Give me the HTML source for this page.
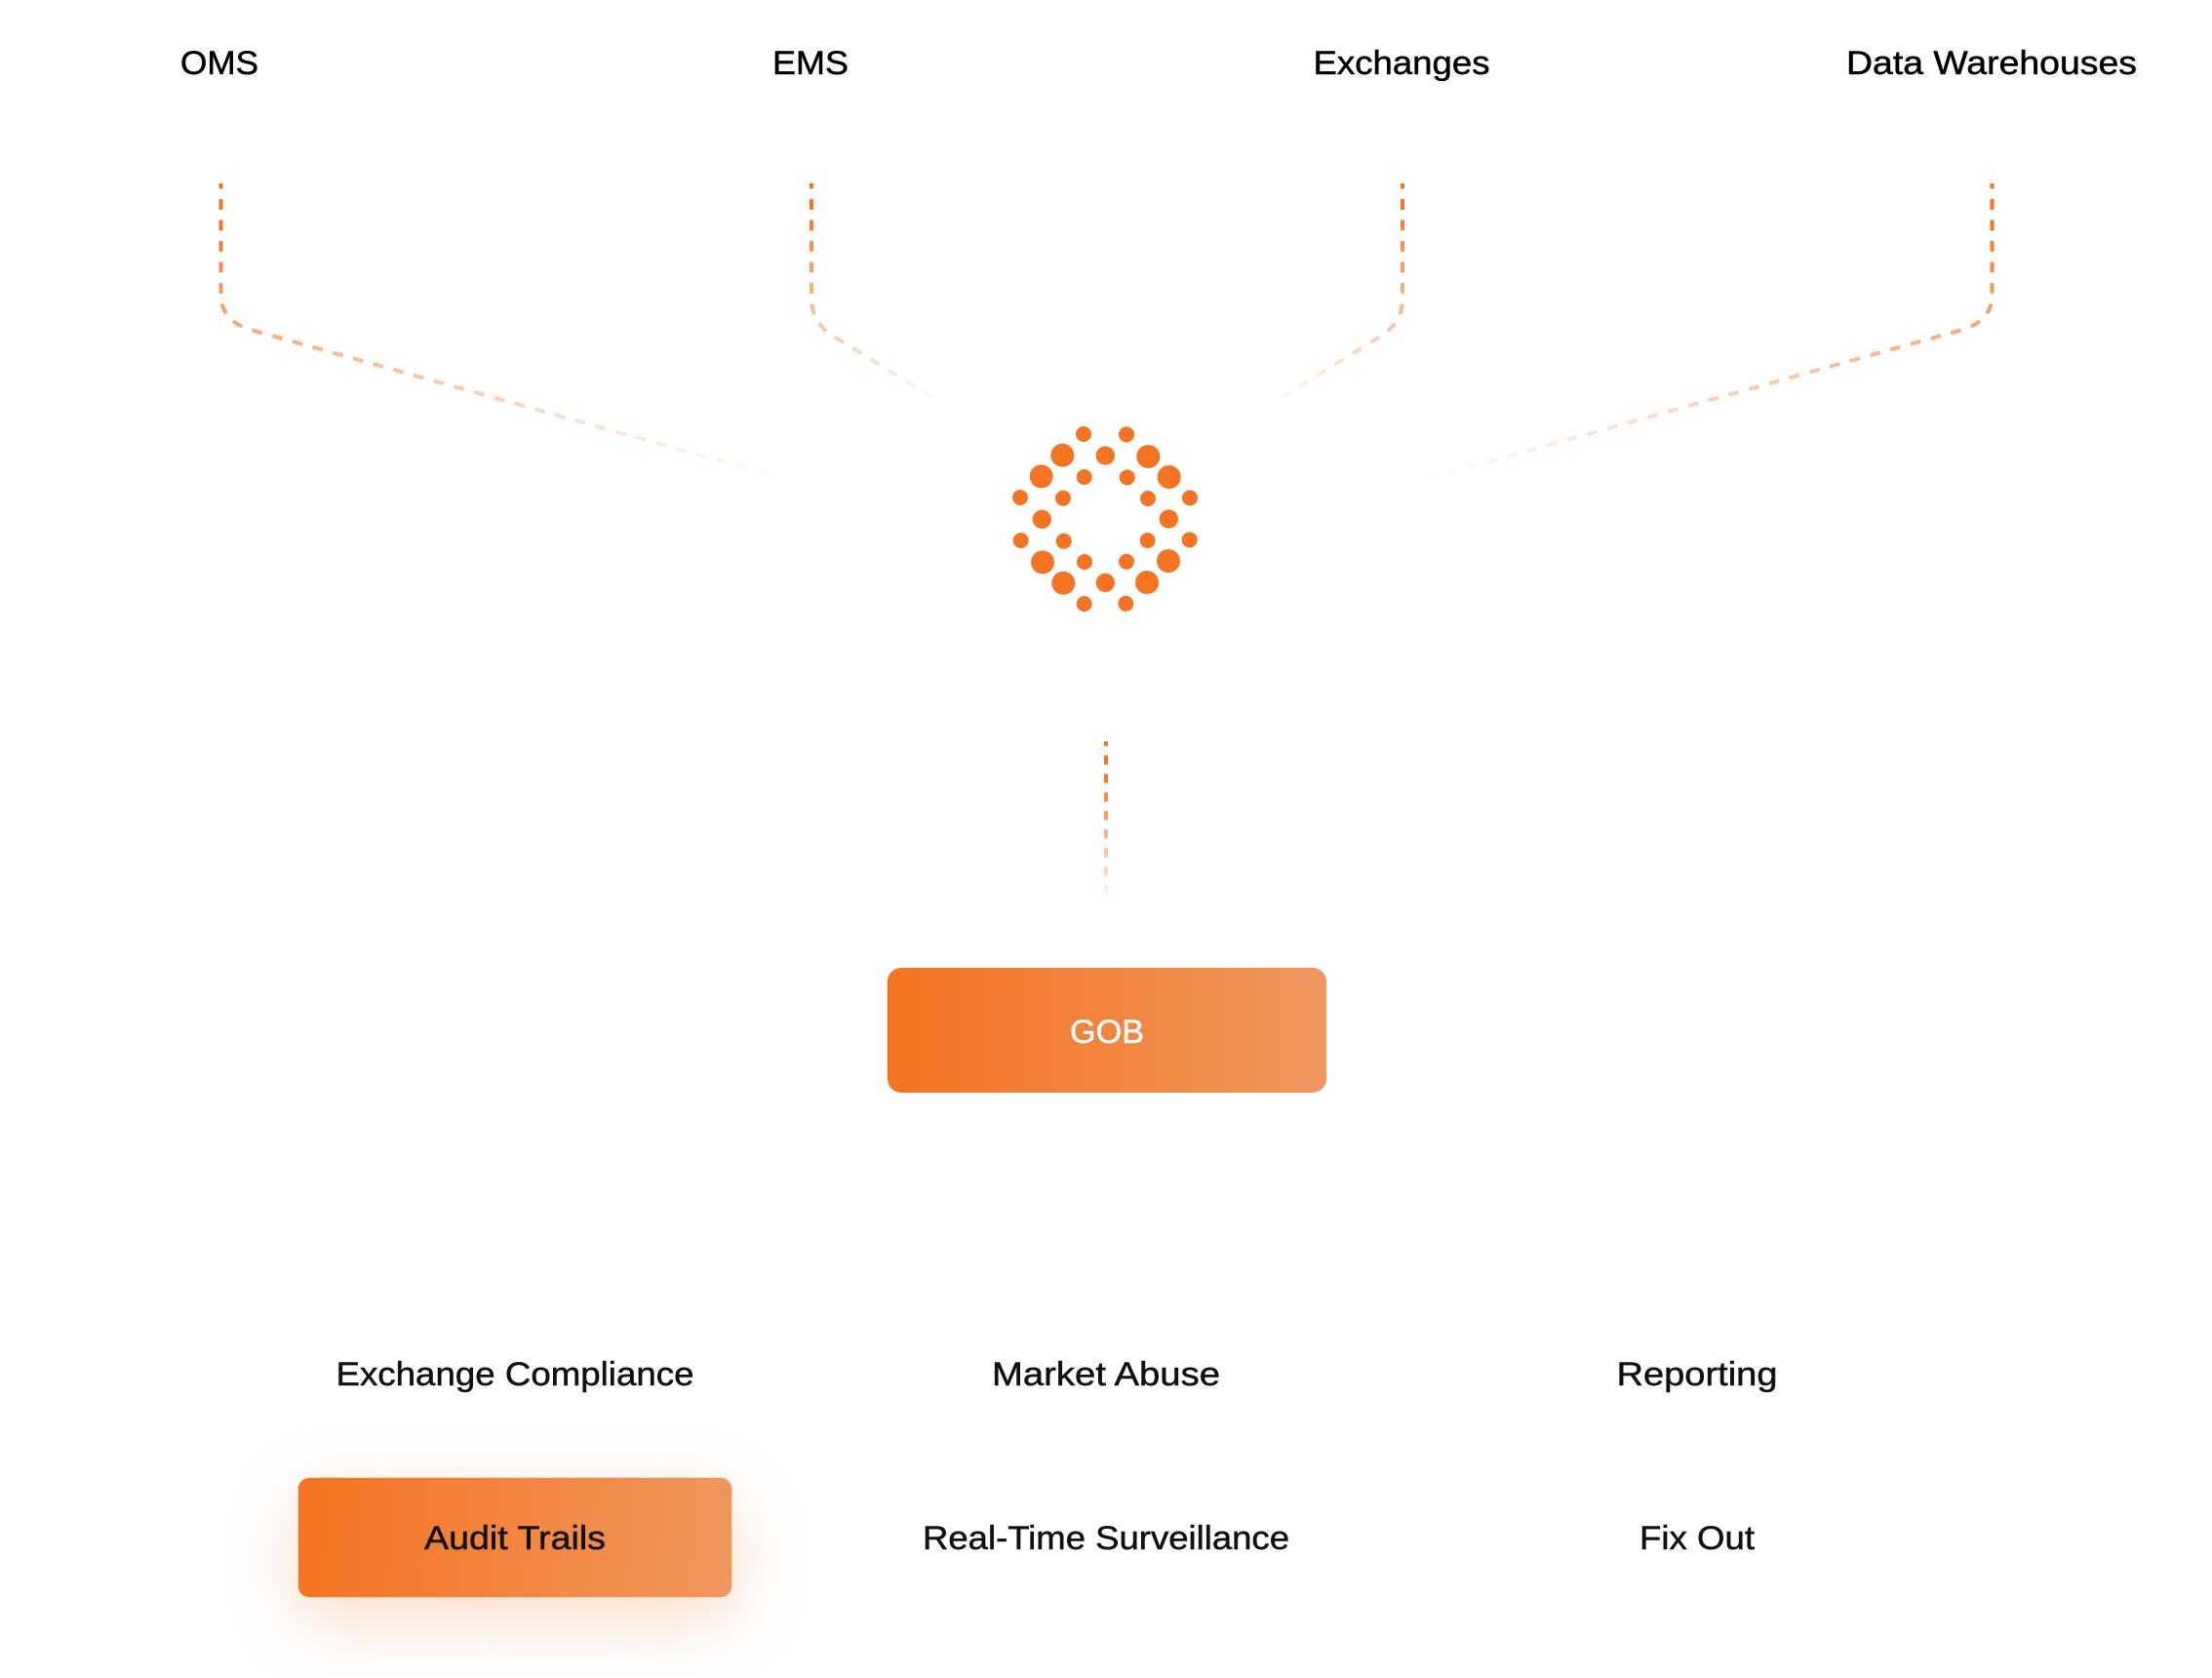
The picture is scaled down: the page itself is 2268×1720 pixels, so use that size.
<!DOCTYPE html>
<html><head><meta charset="utf-8"><style>
html,body{margin:0;padding:0;background:#fff;width:2268px;height:1720px;overflow:hidden}
.box{position:absolute;box-sizing:border-box}
#gob{left:910px;top:992px;width:450px;height:128px;border-radius:14px;background:linear-gradient(90deg,#F47321,#EF975E)}
#audit{left:305px;top:1514px;width:446px;height:124px;border-radius:12px;background:linear-gradient(95deg,#F47321,#F0975E);border:1px solid #fbd9c3;box-shadow:0 22px 70px rgba(245,115,35,.25)}
svg{position:absolute;left:0;top:0}
text{font-family:"Liberation Sans",sans-serif;font-size:34px;text-anchor:middle;stroke-width:.5px}
</style></head><body>
<div class="box" id="gob"></div><div class="box" id="audit"></div>
<svg width="2268" height="1720" viewBox="0 0 2268 1720" xmlns="http://www.w3.org/2000/svg">
<defs>
<linearGradient id="a" gradientUnits="userSpaceOnUse" x1="0" y1="188" x2="0" y2="494"><stop offset=".15" stop-color="#F57322"/><stop offset="1" stop-color="#F57322" stop-opacity="0"/></linearGradient>
<linearGradient id="b" gradientUnits="userSpaceOnUse" x1="0" y1="188" x2="0" y2="418"><stop offset=".1" stop-color="#F57322"/><stop offset="1" stop-color="#F57322" stop-opacity="0"/></linearGradient>
<linearGradient id="c" gradientUnits="userSpaceOnUse" x1="0" y1="760" x2="0" y2="930"><stop offset=".18" stop-color="#F57322"/><stop offset="1" stop-color="#F57322" stop-opacity="0"/></linearGradient>
</defs>
<g fill="none" stroke-width="4" stroke-dasharray="10.75 10.75" stroke-dashoffset="5.4">
<path stroke="url(#a)" d="M226.5 188V302Q226.5 329 257 338L802 490"/>
<path stroke="url(#b)" d="M832 188V306Q832 331 855 345L960 410"/>
<path stroke="url(#b)" d="M1438 188V306Q1438 331 1415 345L1310 410"/>
<path stroke="url(#a)" d="M2042.5 188V302Q2042.5 329 2012 338L1466 490"/>
<path stroke="url(#c)" stroke-dasharray="9.5 9.5" stroke-dashoffset="4.75" d="M1134 760V930"/>
</g>
<g transform="translate(1000 400) scale(.33333)" fill="#F57423">
<circle cx="333" cy="135" r="24"/><circle cx="465" cy="136" r="24"/><circle cx="335" cy="267" r="24"/><circle cx="467" cy="268" r="24"/>
<circle cx="138" cy="330" r="24"/><circle cx="270" cy="332" r="24"/><circle cx="531" cy="333" r="24"/><circle cx="660" cy="331" r="24"/>
<circle cx="140" cy="462" r="24"/><circle cx="272" cy="464" r="24"/><circle cx="530" cy="462" r="24"/><circle cx="659" cy="460" r="24"/>
<circle cx="336" cy="528" r="24"/><circle cx="465" cy="527" r="24"/><circle cx="335" cy="657" r="24"/><circle cx="463" cy="656" r="24"/>
<circle cx="400" cy="201" r="29"/><circle cx="205" cy="397" r="29"/><circle cx="595" cy="396" r="29"/><circle cx="400" cy="592" r="29"/>
<circle cx="268" cy="200" r="36"/><circle cx="532" cy="204" r="36"/><circle cx="203" cy="265" r="36"/><circle cx="596" cy="267" r="36"/>
<circle cx="207" cy="529" r="36"/><circle cx="594" cy="525" r="36"/><circle cx="271" cy="593" r="36"/><circle cx="528" cy="591" r="36"/>
</g>
<g fill="#000" stroke="#000">
<text x="225" y="76" textLength="80" lengthAdjust="spacingAndGlyphs">OMS</text>
<text x="831" y="76" textLength="78" lengthAdjust="spacingAndGlyphs">EMS</text>
<text x="1437" y="76" textLength="181" lengthAdjust="spacingAndGlyphs">Exchanges</text>
<text x="2042" y="76" textLength="298" lengthAdjust="spacingAndGlyphs">Data Warehouses</text>
</g>
<text x="1135" y="1069" fill="#fff" stroke="#fff" textLength="76" lengthAdjust="spacingAndGlyphs">GOB</text>
<g fill="#111" stroke="#111">
<text x="528" y="1420" textLength="367" lengthAdjust="spacingAndGlyphs">Exchange Compliance</text>
<text x="1134" y="1420" textLength="234" lengthAdjust="spacingAndGlyphs">Market Abuse</text>
<text x="1740" y="1420" textLength="165" lengthAdjust="spacingAndGlyphs">Reporting</text>
<text x="528" y="1588" textLength="186" lengthAdjust="spacingAndGlyphs">Audit Trails</text>
<text x="1134" y="1588" textLength="376" lengthAdjust="spacingAndGlyphs">Real-Time Surveillance</text>
<text x="1740" y="1588" textLength="118" lengthAdjust="spacingAndGlyphs">Fix Out</text>
</g>
</svg>
</body></html>
